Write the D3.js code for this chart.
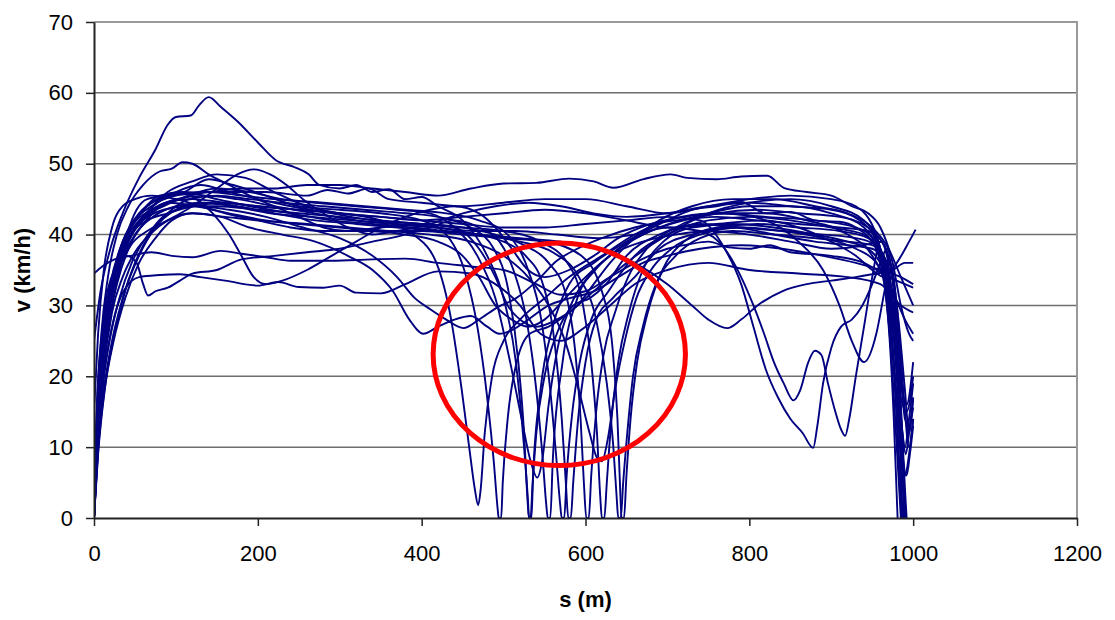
<!DOCTYPE html>
<html>
<head>
<meta charset="utf-8">
<script src="https://cdn.jsdelivr.net/npm/d3@7"></script>
<style>
  html, body { margin: 0; padding: 0; background: #fff; }
  svg text { font-family: "Liberation Sans", Arial, sans-serif; }
</style>
</head>
<body>
<div id="chart"></div>
<script>
// tick labels
var x_ticks = [0, 200, 400, 600, 800, 1000, 1200];
var y_ticks = [0, 10, 20, 30, 40, 50, 60, 70];

// red ellipse round the stops at the junction (centre s, v and radii in m, km/h)
var ring_center = [568, 23.1];
var ring_radius = [154, 15.7];

// speed profiles, [s (m), v (km/h)]
var run01 = [[0,25],[8,32],[20,38],[35,43],[55,48],[75,52],[90,55.5],[100,56.6],[118,56.8],[128,58.2],[140,59.4],[155,58],[175,56],[200,53],[222,50.5],[245,49.5],[262,48.5],[275,47],[300,46.5],[320,47],[340,46],[360,46.4],[380,45],[400,45.3],[420,44],[450,42],[480,37],[500,31],[515,22],[525,10],[530,2],[531,0],[534,0],[536,6],[545,18],[560,27],[580,33],[610,36],[650,39],[700,42],[730,43.5],[760,44],[790,44.6],[820,43],[850,43.2],[880,42],[910,41.8],[930,41],[955,38],[968,30],[976,15],[980,3],[981,0]];
var run02 = [[0,34.5],[10,35.5],[25,36.5],[45,37],[70,37.5],[95,37],[120,36.8],[155,37.7],[180,37.3],[210,36.8],[240,36.3],[290,36.3],[340,36.5],[380,36.6],[420,36],[460,35.5],[500,35],[540,33],[570,31.5],[600,32],[630,34],[660,36],[700,38],[725,38.6],[750,39],[775,38.2],[800,38],[825,38.5],[850,37.5],[900,37],[940,36],[970,34],[990,33],[1000,32.5]];
var run03 = [[0,0],[5,10],[12,20],[22,27],[36,32],[55,34],[80,34.3],[105,34.4],[130,34],[160,33.5],[200,32.8],[225,33.3],[250,32.6],[280,32.5],[300,32.8],[320,31.8],[350,31.7],[380,33],[420,34.8],[460,34.5],[490,33],[520,30],[545,26],[570,25],[600,27],[630,30],[660,33],[700,35],[750,36],[800,35],[860,34.5],[920,34],[960,33],[985,30],[1000,29]];
var run04 = [[0,0],[3,14],[8,24],[15,31],[25,35],[40,37],[52,36],[60,33],[66,31.4],[75,32],[90,32.5],[105,33.5],[120,34.5],[150,35],[180,36.5],[220,37],[260,37.5],[300,38],[340,39],[380,40],[410,41],[440,42],[470,41],[495,39],[512,35],[528,28],[540,18],[548,8],[552,2],[554,0],[557,0],[560,8],[572,22],[590,31],[612,35],[640,38],[690,41],[750,43],[800,44],[850,44],[900,43],[940,41],[960,36],[972,25],[980,10],[985,0]];
var run05 = [[0,0],[4,11],[10,21],[18,29],[28,35],[40,40],[52,43.5],[65,45],[90,45.5],[130,46],[170,46],[210,46],[260,45.5],[285,46.3],[310,45.8],[335,46.5],[360,45],[400,44.5],[450,44],[500,44.5],[550,45],[600,45],[650,44],[700,43],[750,44],[800,45],[850,45.5],[900,45],[930,44],[955,40],[970,30],[980,15],[986,0]];
var run06 = [[0,0],[4,14],[10,24],[20,32],[32,38],[50,42],[70,44],[100,45.5],[140,46],[180,46.5],[220,46.5],[260,47],[300,47],[340,46.5],[380,46],[420,45.5],[460,46.5],[500,47.2],[540,47.3],[580,47.9],[610,47.5],[634,46.6],[670,47.8],[704,48.5],[724,48],[760,47.8],[790,48.2],[822,48.3],[842,46.6],[870,46],[900,45.5],[925,44],[945,43],[960,41],[975,36],[985,30],[995,26],[1000,25]];
var run07 = [[0,0],[4,10],[10,20],[19,28],[31,35],[48,40.5],[68,43.5],[90,46],[120,47.5],[150,48.5],[185,48],[220,46],[260,44],[300,43],[350,42.5],[400,42],[450,42.5],[500,43],[550,43.5],[600,43],[650,42],[700,41],[760,41.5],[820,42],[860,41],[900,39],[930,37],[950,35],[965,34],[980,36],[995,39],[1003,40.7]];
var run08 = [[0,0],[3,11],[9,21],[18,30],[30,36],[45,40],[65,42],[90,43],[120,44],[160,44.5],[200,44],[250,43.5],[300,43],[350,42],[390,40],[418,36],[436,28],[449,18],[458,10],[465,4],[469,1.8],[472,4],[477,12],[486,20],[500,25],[520,28],[550,31],[580,34],[620,37],[660,40],[700,42],[760,43],[820,42.5],[880,42],[930,41],[955,39],[968,33],[978,18],[984,5],[988,0]];
var run09 = [[0,5],[4,15],[10,25],[20,33],[35,39],[55,43],[80,45],[110,46],[140,47.8],[170,47],[210,45.5],[250,44],[300,43.5],[350,43],[400,42],[430,40],[452,35],[468,27],[480,17],[488,8],[493,1],[494,0],[497,0],[499,5],[505,14],[516,22],[532,26],[555,27],[580,29],[610,32],[650,36],[700,40],[750,43],[800,44.5],[850,45],[900,44],[940,42],[960,38],[975,30],[985,17],[992,15],[1000,20]];
var run10 = [[0,0],[3,9],[8,18],[16,26],[28,33],[44,38.5],[64,42],[88,44.5],[115,45],[150,45.5],[190,45],[230,44.5],[280,44],[330,43.5],[380,43],[420,42.5],[460,41],[488,38],[506,32],[518,22],[525,12],[529,3],[531,0],[533,0],[535,4],[540,12],[550,20],[565,26],[585,30],[605,31],[625,33],[650,37],[690,40],[740,41.5],[790,41],[840,40.5],[890,40],[930,39.5],[955,38.5],[970,35],[980,22],[987,12],[991,9],[995,12],[1000,17]];
var run11 = [[0,0],[3,12],[8,22],[16,30],[28,36],[42,40],[60,42.5],[85,44],[115,45.5],[150,46.5],[190,46],[230,45],[280,44.5],[330,44],[380,43.5],[430,43],[470,42],[505,40],[530,35],[546,28],[557,18],[564,9],[569,2],[571,0],[574,0],[577,6],[584,15],[593,22],[607,28],[628,32],[660,37],[700,40],[750,42],[800,42.5],[850,42],[900,41],[940,40],[960,37],[975,28],[985,15],[990,2],[991,0]];
var run12 = [[0,0],[4,12],[10,22],[18,30],[29,36],[43,40.5],[60,43.5],[80,45.5],[110,46],[150,45],[190,44],[240,43],[290,42],[340,41.5],[390,41],[430,40.5],[470,40],[500,39],[527,37],[548,33],[562,25],[571,14],[576,5],[579,0],[582,0],[585,5],[591,14],[600,22],[613,28],[633,31],[660,34],[690,38],[730,40],[780,41],[830,40],[880,39],[920,38.5],[950,38],[965,36],[978,28],[986,18],[992,16],[1000,22]];
var run13 = [[0,0],[4,14],[10,24],[19,31],[32,37],[50,41],[72,44],[100,46],[130,47],[165,46],[200,45],[240,44],[290,43],[340,42],[400,41.5],[450,41],[490,40],[525,38.5],[555,36],[575,32],[587,24],[594,14],[598,5],[601,0],[604,0],[607,6],[613,15],[622,23],[636,29],[652,34],[675,38],[710,41],[760,43],[810,43.5],[860,43],[910,42.5],[945,41],[962,37],[975,28],[984,14],[989,3],[990,0]];
var run14 = [[0,0],[3,11],[8,21],[16,29],[27,35],[42,39.5],[60,42],[85,43.5],[115,44],[150,44],[200,43.5],[250,43],[300,42.5],[350,42],[400,41.5],[450,41],[500,40.5],[545,39],[578,36],[597,30],[607,22],[614,12],[618,3],[620,0],[623,0],[626,5],[631,13],[640,22],[653,29],[670,35],[695,39],[730,41],[780,41.5],[830,41],[880,40],[920,39],[945,38],[960,36],[975,32],[990,28],[1000,26]];
var run15 = [[0,2],[4,14],[10,24],[19,32],[32,38],[48,41.5],[70,43.5],[100,45],[135,45.5],[175,45],[220,44],[270,43],[320,42],[370,41.5],[420,41],[470,40],[520,39],[560,37.5],[592,34],[613,28],[626,19],[634,10],[638,3],[640,0],[643,0],[646,5],[651,12],[658,20],[670,27],[686,33],[710,37],[740,39.5],[780,40.5],[830,40],[880,39.5],[920,39],[950,38.5],[968,36],[978,26],[985,14],[990,10],[995,14],[1000,19]];
var run16 = [[0,0],[5,9],[13,18],[24,25],[38,31],[55,36],[75,39.5],[95,42],[120,43],[160,42.5],[200,42],[250,41.5],[300,41],[350,40.5],[400,40.5],[450,40],[500,39.5],[550,39],[595,37],[620,32],[633,24],[639,14],[642,5],[644,0],[647,0],[650,6],[655,14],[663,22],[676,29],[694,35],[720,39],[760,41],[810,41.5],[860,41],[910,40.5],[945,39.5],[962,37],[975,30],[985,16],[990,4],[992,0]];
var run17 = [[0,0],[4,13],[10,23],[20,31],[34,37],[52,41],[75,43.5],[105,45],[140,46],[180,45.5],[220,45],[270,44.5],[320,44],[370,43.5],[410,43],[440,41],[468,37],[490,31],[508,22],[522,14],[533,8],[541,5.7],[547,8],[555,16],[566,24],[582,30],[603,34],[630,37],[670,40],[720,42],[770,43],[820,43],[870,42],[920,40],[950,37],[968,32],[978,20],[985,9],[990,6],[995,9],[1000,14]];
var run18 = [[0,0],[3,12],[9,22],[18,30],[30,36],[46,40],[66,43],[92,44.5],[125,44],[165,43],[210,42],[260,41.5],[310,41],[360,40.5],[410,40],[460,39],[500,37],[530,34],[555,30],[575,25],[592,18],[605,12],[614,8.5],[620,8],[627,11],[636,18],[648,25],[662,31],[680,35],[705,38],[740,40],[790,41],[840,40.5],[890,39.5],[930,38],[955,36],[972,30],[982,18],[988,8],[992,6],[996,9],[1000,13]];
var run19 = [[0,0],[5,11],[12,21],[22,29],[35,34],[50,37.5],[68,40],[90,42],[120,43],[155,42.5],[190,41],[230,40],[270,39],[310,37],[340,35],[365,32],[385,28],[402,26],[420,27],[440,28],[460,28.5],[480,27],[495,26],[510,26.5],[530,28],[555,30],[580,31],[610,32],[640,34],[670,36],[700,37],[740,38],[790,38.5],[840,38],[890,37],[930,36],[960,35],[985,34],[1000,33]];
var run20 = [[0,0],[4,12],[10,22],[20,30],[33,36],[50,40],[72,42.5],[100,44],[135,44.5],[175,44],[220,43],[270,42],[320,41.5],[370,41],[420,40.5],[470,40],[520,39.5],[570,39],[620,38],[660,36],[700,33],[730,30],[750,28],[773,26.8],[790,28],[810,30],[840,32],[870,33],[900,33.5],[930,34],[955,34.5],[975,35],[990,36],[1000,36]];
var run21 = [[0,0],[5,10],[12,18],[22,25],[35,31],[50,36],[68,40],[90,43],[120,45],[160,44.5],[200,44],[250,43.5],[300,43],[350,42.5],[400,42],[450,41.5],[500,41],[550,41],[600,41.5],[650,42],[700,42.5],[740,42],[770,38],[790,33],[805,27],[820,21],[835,17],[850,14],[865,12],[878,9.9],[883,13],[890,19],[900,24],[912,27],[925,28],[938,30],[950,33],[960,36],[968,38],[976,32],[983,18],[987,6],[989,0]];
var run22 = [[0,0],[6,11],[14,19],[25,26],[38,32],[55,37],[75,41],[100,43.5],[130,44.5],[170,44],[215,43],[265,42.5],[315,42],[365,41.5],[415,41],[465,40.5],[515,40.5],[565,40],[615,39.5],[660,40],[700,41],[740,40.5],[770,38],[790,34],[805,30],[818,26],[830,22],[842,19],[854,16.6],[862,18],[872,22],[880,23.6],[888,23],[896,19],[905,15],[912,12.5],[917,11.6],[922,14],[930,20],[940,27],[950,34],[960,39],[968,37],[976,28],[983,14],[987,0]];
var run23 = [[0,0],[4,10],[10,18],[19,25],[31,31],[46,36],[66,40],[90,43],[125,44],[165,43.5],[210,42.5],[255,41],[300,39.5],[340,37],[370,34],[392,31],[410,29.5],[430,28],[451,26.8],[470,28],[492,29.7],[515,31],[541,33.5],[565,36.3],[590,38],[620,39.5],[660,41],[710,42],[760,42.5],[810,42],[860,41.5],[910,41],[945,40.5],[962,39],[976,33],[984,22],[990,14],[995,13],[1000,15.6]];
var run24 = [[0,0],[3,14],[9,26],[17,34],[28,40],[42,44],[60,47],[80,48.9],[95,49.3],[108,50.2],[120,50],[140,48.5],[165,47],[190,45.5],[220,44],[250,42.5],[280,41],[310,40.5],[350,41],[400,41.5],[440,41],[470,38],[490,34],[505,30],[520,28],[540,27],[565,28],[590,30],[610,33],[630,36],[655,39],[690,42],[730,44],[780,45],[830,45],[880,44],[920,43],[950,41],[970,38],[985,34],[1000,30]];
var run25 = [[0,0],[4,12],[10,22],[19,30],[30,35],[45,38.5],[65,40.5],[90,42],[120,44],[150,46.5],[175,48.5],[195,49.2],[215,48.5],[235,47],[255,45],[280,43],[310,41],[340,40],[370,40.5],[410,41.5],[450,43],[490,44],[530,44.5],[570,44],[610,43],[650,42.5],[700,43],[750,44],[800,44.5],[850,44],[900,43.5],[935,42],[955,39],[970,32],[980,20],[986,8],[990,0]];
var run26 = [[0,0],[3,12],[9,22],[18,31],[30,37],[45,41],[65,44],[85,45.5],[105,46],[125,45],[145,43],[165,40],[180,37],[195,34],[210,33],[230,33.5],[260,35],[290,37],[320,39],[350,41],[380,42.5],[410,43.5],[440,44],[470,43],[490,41],[510,38],[530,35],[550,34],[580,35],[610,37],[640,39.5],[680,41.5],[720,42.5],[770,43],[820,42],[860,39],[890,35],[910,30],[925,25],[940,22],[955,26],[965,32],[972,36],[980,30],[988,18],[995,10],[1000,14]];
var run27 = [[0,15],[5,26],[12,35],[22,41],[35,44],[50,45],[70,45.5],[100,45],[130,44],[160,43],[200,42],[240,41],[280,40.5],[330,40.5],[380,40],[420,39],[450,37],[470,34],[490,30],[510,28],[530,27],[550,28],[575,31],[600,34],[630,37],[670,39],[710,40],[750,40.5],[800,40],[850,39],[900,38],[940,38.5],[960,39],[972,36],[982,28],[990,18],[995,12],[1000,17]];

var runs = [run01, run02, run03, run04, run05, run06, run07, run08, run09, run10,
            run11, run12, run13, run14, run15, run16, run17, run18, run19, run20,
            run21, run22, run23, run24, run25, run26, run27];

var margin = { top: 22, right: 38, bottom: 102, left: 94 };
var width = 1115;
var height = 620;
var chart_width = width - margin.left - margin.right;
var chart_height = height - margin.top - margin.bottom;

var svg = d3.select('#chart')
    .append('svg')
    .attr('width', width)
    .attr('height', height);

var x = d3.scaleLinear().domain([0, 1200]).range([0, chart_width]);
var y = d3.scaleLinear().domain([0, 70]).range([chart_height, 0]);

var g = svg.append('g')
    .attr('transform', `translate(${margin.left}, ${margin.top})`);

g.append('clipPath').attr('id', 'plot_clip')
    .append('rect')
    .attr('x', 0).attr('y', -2)
    .attr('width', chart_width).attr('height', chart_height + 2);

// horizontal grid
g.append('g')
    .selectAll('line')
    .data(y_ticks.slice(1, -1))
    .enter()
    .append('line')
    .attr('x1', 0)
    .attr('x2', chart_width)
    .attr('y1', function(d) { return y(d); })
    .attr('y2', function(d) { return y(d); })
    .attr('stroke', '#6e6e6e')
    .attr('stroke-width', 1.5);

// plot frame top / right
g.append('path')
    .attr('d', `M0,${y(70)}H${x(1200)}V${y(0)}`)
    .attr('fill', 'none')
    .attr('stroke', '#999')
    .attr('stroke-width', 2);

var line = d3.line()
    .x(function(d) { return x(d[0]); })
    .y(function(d) { return y(d[1]); })
    .curve(d3.curveMonotoneX);

g.append('g')
    .attr('clip-path', 'url(#plot_clip)')
    .selectAll('path')
    .data(runs)
    .enter()
    .append('path')
    .attr('d', line)
    .attr('fill', 'none')
    .attr('stroke', '#000080')
    .attr('stroke-width', 1.9)
    .attr('stroke-linejoin', 'round');

// red ring
g.append('ellipse')
    .attr('cx', x(ring_center[0]))
    .attr('cy', y(ring_center[1]))
    .attr('rx', x(ring_radius[0]) - x(0))
    .attr('ry', y(0) - y(ring_radius[1]))
    .attr('fill', 'none')
    .attr('stroke', '#ff0000')
    .attr('stroke-width', 5);

var xaxis = g.append('g')
    .attr('transform', `translate(0, ${chart_height})`)
    .call(d3.axisBottom(x).tickValues(x_ticks).tickFormat(d3.format('d'))
        .tickSize(8).tickPadding(19).tickSizeOuter(0));

var yaxis = g.append('g')
    .call(d3.axisLeft(y).tickValues(y_ticks).tickFormat(d3.format('d'))
        .tickSize(8).tickPadding(13).tickSizeOuter(0));

[xaxis, yaxis].forEach(function(a) {
    a.select('.domain').attr('stroke', '#222').attr('stroke-width', 2);
    a.selectAll('.tick line').attr('stroke', '#222').attr('stroke-width', 1.5);
    a.selectAll('.tick text')
        .attr('fill', '#000')
        .style('font-size', '22px')
        .style('font-family', '"Liberation Sans", Arial, sans-serif');
});

svg.append('text')
    .attr('transform', `translate(30, ${margin.top + chart_height / 2}) rotate(-90)`)
    .attr('text-anchor', 'middle')
    .style('font-size', '22px')
    .style('font-weight', 700)
    .text('v (km/h)');

svg.append('text')
    .attr('x', margin.left + x(600))
    .attr('y', 607)
    .attr('text-anchor', 'middle')
    .style('font-size', '22px')
    .style('font-weight', 700)
    .text('s (m)');
</script>
</body>
</html>
